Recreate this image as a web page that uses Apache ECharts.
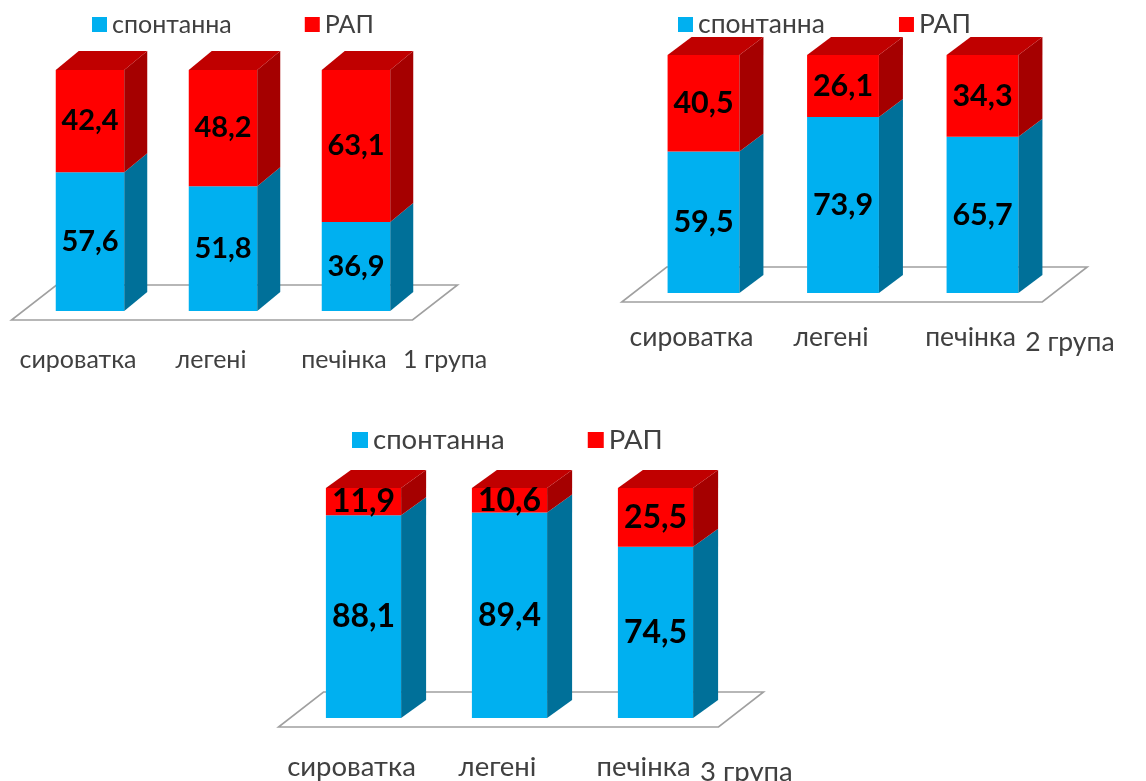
<!DOCTYPE html>
<html>
<head>
<meta charset="utf-8">
<script src="https://cdn.jsdelivr.net/npm/echarts@6/dist/echarts.min.js"></script>
<style>
  html, body { margin: 0; padding: 0; background: #ffffff; }
  #chart { width: 1146px; height: 781px; }
</style>
</head>
<body>
<div id="chart"></div>
<script>
// Categories and shares (%) of spontaneous and induced (РАП) activity per group
const categories = ['сироватка', 'легені', 'печінка'];
const seriesNames = ['спонтанна', 'РАП'];
const groupNames = ['1 група', '2 група', '3 група'];

const spontaneous1 = [57.6, 51.8, 36.9];
const rap1         = [42.4, 48.2, 63.1];
const spontaneous2 = [59.5, 73.9, 65.7];
const rap2         = [40.5, 26.1, 34.3];
const spontaneous3 = [88.1, 89.4, 74.5];
const rap3         = [11.9, 10.6, 25.5];

const FONT = 'Lato, "Open Sans", "DejaVu Sans", sans-serif';
const TEXT_GRAY = '#404040';
const BLUE = { front: '#00B0F0', side: '#007099', top: '#0090C4' };
const RED  = { front: '#FF0000', side: '#A50000', top: '#C00000' };

// Layout of the three panels
const panels = [
  { name: groupNames[0], spont: spontaneous1, rap: rap1,
    grid: { left: 23.5, top: 70, width: 399, height: 241 },
    depth: [23, 19], textSize: 25, valueSize: 29,
    legend: { left: 92, top: 12, icon: 15, gap: 73 },
    labelMargin: 36, nameGap: -19.5, namePad: 36 },
  { name: groupNames[1], spont: spontaneous2, rap: rap2,
    grid: { left: 633.75, top: 55, width: 418.5, height: 238 },
    depth: [24, 18], textSize: 26.5, valueSize: 30.5,
    legend: { left: 678, top: 11, icon: 15, gap: 74 },
    labelMargin: 31, nameGap: -27, namePad: 36 },
  { name: groupNames[2], spont: spontaneous3, rap: rap3,
    grid: { left: 290.5, top: 488, width: 438, height: 230 },
    depth: [25, 18], textSize: 27.5, valueSize: 32,
    legend: { left: 352, top: 426, icon: 16, gap: 83 },
    labelMargin: 35, nameGap: -28.5, namePad: 40 }
];

const fmt = v => String(v).replace('.', ',');

// Draws one stacked 3D block: front face, right side face, optional top face and value text
function barRenderer(depth, palette, withTop, valueSize) {
  return function (params, api) {
    const i = api.value(0);
    const base = api.value(1);
    const v = api.value(2);
    const pb = api.coord([i, base]);
    const pt = api.coord([i, base + v]);
    const w = api.size([1, 0])[0] * 0.515;
    const x0 = pb[0] - w / 2, x1 = pb[0] + w / 2;
    const yb = pb[1], yt = pt[1];
    const dx = depth[0], dy = depth[1];
    const children = [
      { type: 'rect', shape: { x: x0, y: yt, width: w, height: yb - yt },
        style: { fill: palette.front } },
      { type: 'polygon',
        shape: { points: [[x1, yb], [x1 + dx, yb - dy], [x1 + dx, yt - dy], [x1, yt]] },
        style: { fill: palette.side } }
    ];
    if (withTop) {
      children.push({ type: 'polygon',
        shape: { points: [[x0, yt], [x1, yt], [x1 + dx, yt - dy], [x0 + dx, yt - dy]] },
        style: { fill: palette.top } });
    }
    children.push({ type: 'text', x: pb[0], y: (yb + yt) / 2, z2: 10,
      style: { text: fmt(v), fill: '#000000', fontSize: valueSize, fontWeight: 'bold',
               fontFamily: FONT, align: 'center', verticalAlign: 'middle' } });
    return { type: 'group', children };
  };
}

// Floor plane under the bars of one panel
function floorRenderer(params) {
  const cs = params.coordSys;
  const gb = cs.y + cs.height;
  const fl = [cs.x - 12, gb + 9];
  const fr = [cs.x + cs.width - 10, gb + 9];
  const br = [fr[0] + 45, fr[1] - 35];
  const bl = [fl[0] + 45, fl[1] - 35];
  return { type: 'polygon', shape: { points: [fl, fr, br, bl] },
           style: { fill: '#ffffff', stroke: '#a0a0a0', lineWidth: 1.6 } };
}

const grid = [], xAxis = [], yAxis = [], legend = [], series = [];

panels.forEach((p, k) => {
  grid.push(Object.assign({ containLabel: false, outerBoundsMode: 'none' }, p.grid));
  xAxis.push({
    type: 'category', gridIndex: k, data: categories,
    axisLine: { show: false }, axisTick: { show: false }, splitLine: { show: false },
    axisLabel: { interval: 0, hideOverlap: false, margin: p.labelMargin,
                 fontSize: p.textSize, color: TEXT_GRAY, fontFamily: FONT,
                 padding: [0, 24, 0, 0] },
    name: p.name, nameLocation: 'end', nameGap: p.nameGap,
    nameTextStyle: { fontSize: p.textSize, color: TEXT_GRAY, fontFamily: FONT,
                     verticalAlign: 'top', padding: [p.namePad, 0, 0, 0] }
  });
  yAxis.push({ type: 'value', gridIndex: k, min: 0, max: 100, show: false });
  legend.push({
    left: p.legend.left, top: p.legend.top, padding: 0, icon: 'rect',
    itemWidth: p.legend.icon, itemHeight: p.legend.icon, itemGap: p.legend.gap,
    selectedMode: false,
    textStyle: { fontSize: p.textSize, color: TEXT_GRAY, fontFamily: FONT },
    data: seriesNames
  });

  series.push({
    type: 'custom', xAxisIndex: k, yAxisIndex: k, silent: true, z: 1,
    renderItem: floorRenderer, data: [[0, 0]]
  });
  series.push({
    type: 'custom', name: seriesNames[0], xAxisIndex: k, yAxisIndex: k, z: 2,
    itemStyle: { color: BLUE.front },
    encode: { x: 0, y: 2 },
    renderItem: barRenderer(p.depth, BLUE, false, p.valueSize),
    data: p.spont.map((v, i) => [i, 0, v])
  });
  series.push({
    type: 'custom', name: seriesNames[1], xAxisIndex: k, yAxisIndex: k, z: 3,
    itemStyle: { color: RED.front },
    encode: { x: 0, y: 2 },
    renderItem: barRenderer(p.depth, RED, true, p.valueSize),
    data: p.rap.map((v, i) => [i, p.spont[i], v])
  });
});

const chart = echarts.init(document.getElementById('chart'), null, { renderer: 'canvas' });
chart.setOption({
  backgroundColor: '#ffffff',
  animation: false,
  textStyle: { fontFamily: FONT },
  grid, xAxis, yAxis, legend, series
});
</script>
</body>
</html>
